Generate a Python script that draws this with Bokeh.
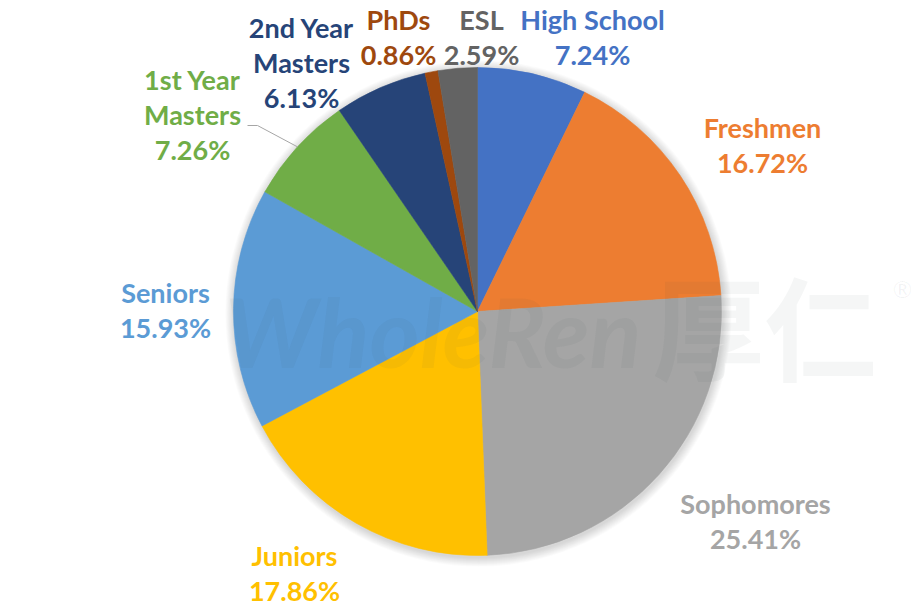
import math
from bokeh.plotting import figure
from bokeh.models import Range1d, ColumnDataSource
from bokeh.core.properties import value
from bokeh.embed import file_html
from bokeh.resources import INLINE

# ---- data ----
categories = ["High School", "Freshmen", "Sophomores", "Juniors", "Seniors",
              "1st Year Masters", "2nd Year Masters", "PhDs", "ESL"]
shares = [7.24, 16.72, 25.41, 17.86, 15.93, 7.26, 6.13, 0.86, 2.59]
colors = ["#4472C4", "#ED7D31", "#A5A5A5", "#FFC000", "#5B9BD5",
          "#70AD47", "#264478", "#9E480E", "#636363"]
label_lines = [["High School"], ["Freshmen"], ["Sophomores"], ["Juniors"], ["Seniors"],
               ["1st Year", "Masters"], ["2nd Year", "Masters"], ["PhDs"], ["ESL"]]

# ---- layout (screen pixels of the page; y grows downward) ----
W, H = 911, 606
CX, CY, R = 477, 311, 244
label_anchor = [(592, 19), (762, 127), (755, 503), (294, 555), (165, 292),
                (192, 79), (301, 27), (398, 19), (481, 19)]
LINE_GAP = 35
FONT = "Lato"
FS = "27px"


def fy(sy):
    return H - sy


p = figure(width=W, height=H, output_backend="svg", toolbar_location=None,
           x_range=Range1d(0, W), y_range=Range1d(0, H), min_border=0)
p.axis.visible = False
p.grid.visible = False
p.outline_line_color = None
p.background_fill_color = "white"
p.border_fill_color = "white"

# soft shadow behind pie
for i in range(10):
    p.circle(x=CX + 1, y=fy(CY + 2), radius=R + 1 + i * 0.9,
             fill_color="black", fill_alpha=0.016, line_color=None)

# wedges (clockwise from 12 o'clock)
total = sum(shares)
starts, ends = [], []
acc = 0.0
for v in shares:
    starts.append(math.pi / 2 - 2 * math.pi * acc / total)
    acc += v
    ends.append(math.pi / 2 - 2 * math.pi * acc / total)
src = ColumnDataSource(dict(start=starts, end=ends, color=colors, name=categories))
p.wedge(x=CX, y=fy(CY), radius=R, start_angle="start", end_angle="end",
        direction="clock", fill_color="color", line_color="color", line_width=0.6,
        source=src)

# watermark
p.text(x=[224], y=[fy(330)], text=["WholeRen"], text_font=value(FONT),
       text_font_style="bold italic", text_font_size="96px", text_color="#3c4a50",
       text_alpha=0.05, text_align="left", text_baseline="alphabetic")
p.text(x=[652], y=[fy(323)], text=["厚仁"], text_font=value("Noto Sans CJK SC"),
       text_font_style="bold", text_font_size="112px", text_color="#3c4a50",
       text_alpha=0.05, text_align="left", text_baseline="alphabetic")
p.text(x=[892], y=[fy(288)], text=["®"], text_font=value(FONT),
       text_font_size="24px", text_color="#3c4a50",
       text_alpha=0.06, text_align="left", text_baseline="alphabetic")

# labels
lx, ly, lt, lc = [], [], [], []
for i, name in enumerate(categories):
    ax, ay = label_anchor[i]
    lines = label_lines[i] + [f"{shares[i]:.2f}%"]
    for k, t in enumerate(lines):
        lx.append(ax)
        ly.append(fy(ay + k * LINE_GAP))
        lt.append(t)
        lc.append(colors[i])
p.text(x="x", y="y", text="text", text_color="color",
       source=ColumnDataSource(dict(x=lx, y=ly, text=lt, color=lc)),
       text_font=value(FONT), text_font_style="bold", text_font_size=FS,
       text_align="center", text_baseline="alphabetic")

# leader line for 1st Year Masters (label -> slice edge at mid-angle)
idx = categories.index("1st Year Masters")
mid = (sum(shares[:idx]) + shares[idx] / 2) / total * 2 * math.pi
ex = CX + R * math.sin(mid)
ey = CY - R * math.cos(mid)
p.line(x=[247, 257, ex], y=[fy(125), fy(125), fy(ey)], line_color="#A6A6A6",
       line_width=1)

open("out.html", "w").write(file_html(p, INLINE))
